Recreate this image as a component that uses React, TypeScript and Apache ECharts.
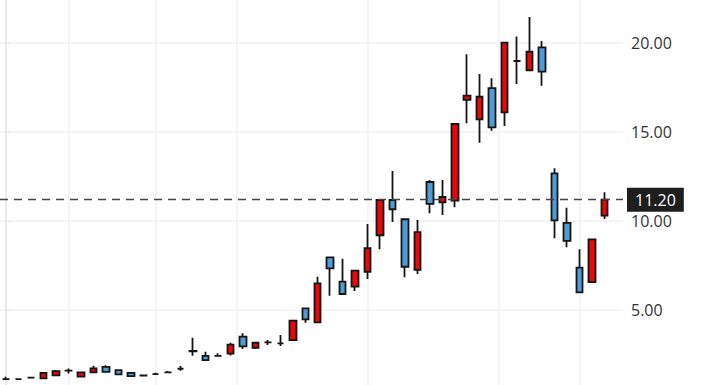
import React, { useEffect, useRef } from "react";
import * as echarts from "echarts";

// OHLC per candle (open, close, low, high)
const opens = [1.12, 1.12, 1.2, 1.16, 1.33, 1.59, 1.26, 1.5, 1.81, 1.62, 1.47, 1.33, 1.4, 1.5, 1.7, 2.68, 2.42, 2.42, 2.55, 3.5, 2.88, 3.18, 3.13, 3.31, 5.09, 4.31, 7.96, 6.59, 6.31, 7.15, 9.2, 11.18, 10.1, 7.25, 12.19, 11.05, 11.14, 16.8, 15.71, 17.47, 16.1, 18.99, 18.47, 19.76, 12.68, 9.9, 7.38, 6.57, 10.3];
const closes = [1.12, 1.12, 1.2, 1.47, 1.57, 1.6, 1.5, 1.72, 1.52, 1.38, 1.29, 1.32, 1.4, 1.5, 1.7, 2.7, 2.19, 2.42, 3.06, 2.96, 3.16, 3.18, 3.13, 4.4, 4.47, 6.5, 7.34, 5.9, 7.21, 8.47, 11.18, 10.66, 7.43, 9.38, 10.96, 11.35, 15.45, 17.04, 16.98, 15.26, 20.02, 18.99, 19.51, 18.39, 10.04, 8.88, 5.99, 8.97, 11.2];
const lows = [1.12, 1.1, 1.18, 1.16, 1.33, 1.44, 1.26, 1.5, 1.52, 1.38, 1.27, 1.28, 1.4, 1.5, 1.59, 2.43, 2.19, 2.42, 2.45, 2.81, 2.81, 3.03, 2.98, 3.31, 4.29, 4.31, 5.8, 5.9, 6.07, 6.74, 8.41, 9.94, 6.84, 7.02, 10.43, 10.34, 10.77, 15.49, 14.4, 15.07, 15.34, 17.7, 18.47, 17.6, 9.03, 8.52, 5.99, 6.57, 10.11];
const highs = [1.25, 1.15, 1.22, 1.47, 1.63, 1.72, 1.5, 1.87, 1.9, 1.62, 1.47, 1.38, 1.48, 1.57, 1.85, 3.44, 2.66, 2.57, 3.16, 3.69, 3.22, 3.31, 3.6, 4.4, 5.09, 6.87, 7.96, 7.88, 7.21, 9.83, 11.18, 12.81, 10.15, 10.06, 12.3, 12.3, 15.45, 19.37, 18.26, 18.02, 20.02, 20.36, 21.46, 20.11, 12.96, 10.75, 8.41, 8.97, 11.61];

// one spare slot on the right of the last candle
const categories = Array.from({ length: opens.length + 1 }, (_, i) => `W${i + 1}`);

// positions (in candle index units) of the vertical grid lines (period boundaries)
const gridLineIdx = [5, 12, 18.5, 29, 39.5, 46];

// price axis: visible range and tick labels
const yMin = 0.787;
const yMax = 22.416;
const yTickValues = [5, 10, 15, 20];

const UP = "#e80808";
const DOWN = "#4f9bd6";
const BORDER = "#151515";
const GRID = "#f5f5f5";

export default function App() {
  const ref = useRef<HTMLDivElement>(null);
  useEffect(() => {
    if (!ref.current) return;
    const chart = echarts.init(ref.current, undefined, { renderer: "svg" });
    const data = opens.map((o, i) => [o, closes[i], lows[i], highs[i]]);
    const last = closes[closes.length - 1];
    chart.setOption({
      animation: false,
      backgroundColor: "#ffffff",
      grid: { left: 0, right: 84, top: 0, bottom: 0, containLabel: false },
      xAxis: [
        {
          type: "category",
          data: categories,
          boundaryGap: true,
          axisLine: { show: false },
          axisTick: { show: false },
          axisLabel: { show: false },
          splitLine: { show: false },
        },
        {
          type: "value",
          min: -0.5,
          max: categories.length - 0.5,
          position: "bottom",
          axisLine: { show: false },
          axisTick: { show: false, customValues: gridLineIdx },
          axisLabel: { show: false },
          splitLine: { show: true, lineStyle: { color: GRID, width: 2 } },
        },
      ],
      yAxis: {
        type: "value",
        position: "right",
        offset: 4,
        min: yMin,
        max: yMax,
        axisLine: { show: true, lineStyle: { color: "#e4e4e4", width: 1.5 } },
        axisTick: {
          show: true,
          length: 5,
          customValues: yTickValues,
          lineStyle: { color: "#e4e4e4" },
        },
        axisLabel: {
          margin: 4,
          color: "#333",
          fontSize: 16,
          fontFamily: "Open Sans",
          customValues: yTickValues,
          formatter: (v: number) => v.toFixed(2),
        },
        splitLine: { show: true, lineStyle: { color: GRID, width: 2 } },
      },
      series: [
        {
          type: "candlestick",
          data,
          barWidth: 7,
          itemStyle: {
            color: UP,
            color0: DOWN,
            borderColor: BORDER,
            borderColor0: BORDER,
            borderWidth: 1.8,
          },
          markLine: {
            silent: true,
            symbol: ["none", "none"],
            lineStyle: { color: "#444", type: [8, 6], width: 1.3 },
            label: {
              show: true,
              position: "end",
              distance: 4,
              formatter: last.toFixed(2),
              color: "#fff",
              backgroundColor: "#1e1e1e",
              padding: [4, 8],
              fontSize: 16,
              fontFamily: "Open Sans",
            },
            data: [{ yAxis: last }],
          },
        },
      ],
    });
    return () => chart.dispose();
  }, []);
  return (
    <div
      ref={ref}
      style={{ position: "fixed", left: 0, top: 0, width: 707, height: 385 }}
    />
  );
}
